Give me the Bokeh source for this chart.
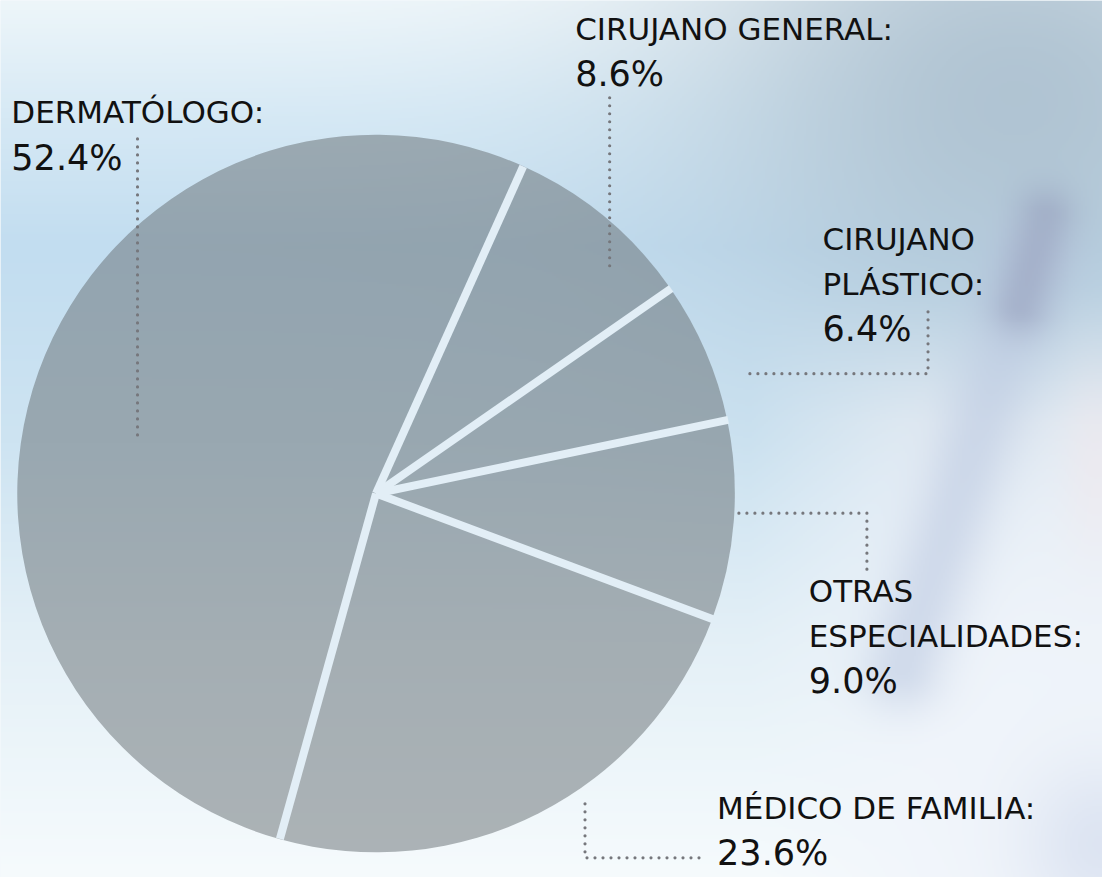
import numpy as np
from bokeh.plotting import figure
from bokeh.models import Range1d
from bokeh.embed import file_html
from bokeh.resources import INLINE
from bokeh.core.properties import value

# ---------------- data ----------------
categories = ["DERMATÓLOGO", "CIRUJANO GENERAL", "CIRUJANO PLÁSTICO",
              "OTRAS ESPECIALIDADES", "MÉDICO DE FAMILIA"]
shares = [52.4, 8.6, 6.4, 9.0, 23.6]

# ---------------- layout (design pixels, origin top-left) ----------------
DES_W, DES_H = 1118, 893
W, H = 1102, 877                   # figure size on the page
CX, CY, R = 381, 502, 364          # pie centre / radius
START_DEG = 254.5                  # slices run clockwise from here
GAP_W = 8
label_wrap = [False, False, True, True, False]
label_pos = [(11, 114), (583, 29), (834, 243), (820, 601), (727, 822)]
LINE_STEP = 46
leaders = [
    [(139, 141), (139, 446)],
    [(618, 99), (618, 272)],
    [(941, 317), (941, 380), (758, 380)],
    [(879, 579), (879, 522), (747, 522)],
    [(593, 818), (593, 873), (714, 873)],
]
FONT = "DejaVu Sans"
LABEL_SIZE = "31px"
PCT_SIZE = "35px"


def dy(sy):
    return DES_H - sy


p = figure(width=W, height=H, output_backend="svg", toolbar_location=None,
           x_range=Range1d(0, DES_W), y_range=Range1d(0, DES_H),
           min_border=0, outline_line_color=None)
p.axis.visible = False
p.grid.visible = False
p.background_fill_color = "#eaf3f9"
p.border_fill_color = "#eaf3f9"


# ---------------- blurred photographic background ----------------
def background():
    h, w = DES_H // 2, DES_W // 2
    ys = DES_H - (np.arange(h) + 0.5) * DES_H / h      # row 0 is the bottom
    xs = (np.arange(w) + 0.5) * DES_W / w
    X, Y = np.meshgrid(xs, ys)
    ky = [0, 120, 250, 450, 650, 893]
    kc = np.array([(238, 246, 250), (214, 233, 245), (194, 221, 240),
                   (206, 228, 242), (228, 240, 247), (246, 251, 253)], float)
    img = np.stack([np.interp(Y, ky, kc[:, i]) for i in range(3)], -1)

    def blend(img, col, wgt):
        wgt = np.clip(wgt, 0, 1)[..., None]
        return img * (1 - wgt) + np.array(col, float) * wgt

    def seg_dist(x0, y0, x1, y1):
        vx, vy = x1 - x0, y1 - y0
        t = np.clip(((X - x0) * vx + (Y - y0) * vy) / (vx * vx + vy * vy), 0, 1)
        return np.hypot(X - (x0 + t * vx), Y - (y0 + t * vy))

    s = np.clip((X - 760) / 180, 0, 1) * np.clip((Y - 290) / 140, 0, 1) * 0.85
    img = blend(img, (241, 245, 251), s)
    g = 0.9 * np.exp(-((X - 1030) ** 2 / (2 * 230 ** 2) + (Y - 90) ** 2 / (2 * 190 ** 2)))
    img = blend(img, (172, 192, 207), g)
    d = seg_dist(1050, 260, 915, 680)
    img = blend(img, (190, 203, 226), 0.6 * np.exp(-d ** 2 / (2 * 30 ** 2)))
    d = seg_dist(1060, 220, 1035, 310)
    img = blend(img, (152, 162, 190), 0.6 * np.exp(-d ** 2 / (2 * 22 ** 2)))
    g = 0.5 * np.exp(-((X - 1112) ** 2 / (2 * 25 ** 2) + (Y - 470) ** 2 / (2 * 70 ** 2)))
    img = blend(img, (242, 232, 236), g)
    g = 0.55 * np.exp(-((X - 1118) ** 2 + (Y - 860) ** 2) / (2 * 60 ** 2))
    img = blend(img, (205, 215, 235), g)

    rgba = np.empty((h, w, 4), dtype=np.uint8)
    rgba[..., :3] = np.clip(img, 0, 255).astype(np.uint8)
    rgba[..., 3] = 255
    return rgba.view(dtype=np.uint32).reshape((h, w))


p.image_rgba(image=[background()], x=0, y=0, dw=DES_W, dh=DES_H)

# ---------------- pie ----------------
shares_arr = np.array(shares)
cum = np.concatenate([[0], np.cumsum(shares_arr)]) / shares_arr.sum() * 360.0
ends_deg = START_DEG - cum[:-1]
starts_deg = START_DEG - cum[1:]
p.wedge(x=CX, y=dy(CY), radius=R,
        start_angle=np.radians(starts_deg), end_angle=np.radians(ends_deg),
        direction="anticlock", fill_color="#646c70", fill_alpha=0.5, line_color=None)

# light gaps between slices
bnd = np.radians(START_DEG - cum[:-1])
p.segment(x0=[CX] * len(bnd), y0=[dy(CY)] * len(bnd),
          x1=CX + (R + 1) * np.cos(bnd), y1=dy(CY) + (R + 1) * np.sin(bnd),
          line_color="#e2eef6", line_width=GAP_W)

# ---------------- leaders ----------------
for pts in leaders:
    p.line([q[0] for q in pts], [dy(q[1]) for q in pts], line_color="#76777c",
           line_width=3.2, line_dash="0 8", line_cap="round", line_join="round")

# ---------------- labels ----------------
for name, share, wrap, (lx, ly) in zip(categories, shares, label_wrap, label_pos):
    lines = name.split(" ", 1) if wrap else [name]
    lines[-1] = lines[-1] + ":"
    for i, t in enumerate(lines):
        p.text(x=[lx], y=[dy(ly + i * LINE_STEP)], text=[t], text_font=value(FONT),
               text_font_size=LABEL_SIZE, text_color="#111111",
               text_baseline="alphabetic", text_align="left")
    p.text(x=[lx], y=[dy(ly + len(lines) * LINE_STEP)], text=[f"{share:.1f}%"],
           text_font=value(FONT), text_font_size=PCT_SIZE, text_color="#111111",
           text_baseline="alphabetic", text_align="left")

open("out.html", "w").write(file_html(p, INLINE))
